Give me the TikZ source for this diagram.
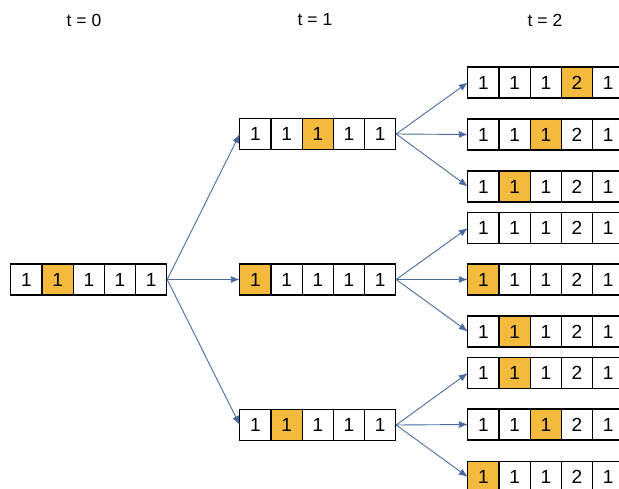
\documentclass[tikz,border=0pt]{standalone}
\usepackage{fontspec}
\setmainfont{Liberation Sans}
\usetikzlibrary{arrows.meta,calc}
\definecolor{hl}{HTML}{F3BA3E}
\definecolor{arr}{HTML}{4A6BA0}
\tikzset{
  cell/.style={draw=black,line width=1.3pt,minimum width=31.2pt,minimum height=31pt,inner sep=0pt,font=\fontsize{19}{19}\selectfont},
  rowbox/.style={minimum width=156pt,minimum height=31pt,inner sep=0pt},
  conn/.style={draw=arr,line width=0.9pt,-{Latex[length=9pt,width=7pt]}},
  title/.style={font=\fontsize{17.5}{17.5}\selectfont}
}
\newcommand\cellrow[4]{%
  \node[rowbox] (#1) at (#2,#3) {};
  \foreach \v/\f [count=\i] in {#4} {
    \node[cell,fill=\f] (#1-\i) at ($(#1.west)+({(\i-0.5)*31.2},0)$) {\v};
  }
}
\begin{document}
\begin{tikzpicture}[x=1pt,y=-1pt]
\useasboundingbox (0,0) rectangle (619,488);
\clip (0,0) rectangle (619,488);
\node[title] (l0) at (84,20) {t = 0};
\node[title] (l1) at (315,20) {t = 1};
\node[title] (l2) at (545,20) {t = 2};
% t = 0
\cellrow{a}{89}{279.5}{1/white,1/hl,1/white,1/white,1/white}
% t = 1
\cellrow{b1}{318}{134}{1/white,1/white,1/hl,1/white,1/white}
\cellrow{b2}{318}{279.5}{1/hl,1/white,1/white,1/white,1/white}
\cellrow{b3}{318}{425}{1/white,1/hl,1/white,1/white,1/white}
% t = 2
\cellrow{c1}{546}{82.5}{1/white,1/white,1/white,2/hl,1/white}
\cellrow{c2}{546}{134.5}{1/white,1/white,1/hl,2/white,1/white}
\cellrow{c3}{546}{186.5}{1/white,1/hl,1/white,2/white,1/white}
\cellrow{c4}{546}{228}{1/white,1/white,1/white,2/white,1/white}
\cellrow{c5}{546}{279.5}{1/hl,1/white,1/white,2/white,1/white}
\cellrow{c6}{546}{331.5}{1/white,1/hl,1/white,2/white,1/white}
\cellrow{c7}{546}{373}{1/white,1/hl,1/white,2/white,1/white}
\cellrow{c8}{546}{424.5}{1/white,1/white,1/hl,2/white,1/white}
\cellrow{c9}{546}{477}{1/hl,1/white,1/white,2/white,1/white}
% connectors
\foreach \t in {b1,b2,b3} { \draw[conn] (a.east) -- (\t.west); }
\foreach \t in {c1,c2,c3} { \draw[conn] (b1.east) -- (\t.west); }
\foreach \t in {c4,c5,c6} { \draw[conn] (b2.east) -- (\t.west); }
\foreach \t in {c7,c8,c9} { \draw[conn] (b3.east) -- (\t.west); }
\end{tikzpicture}
\end{document}
